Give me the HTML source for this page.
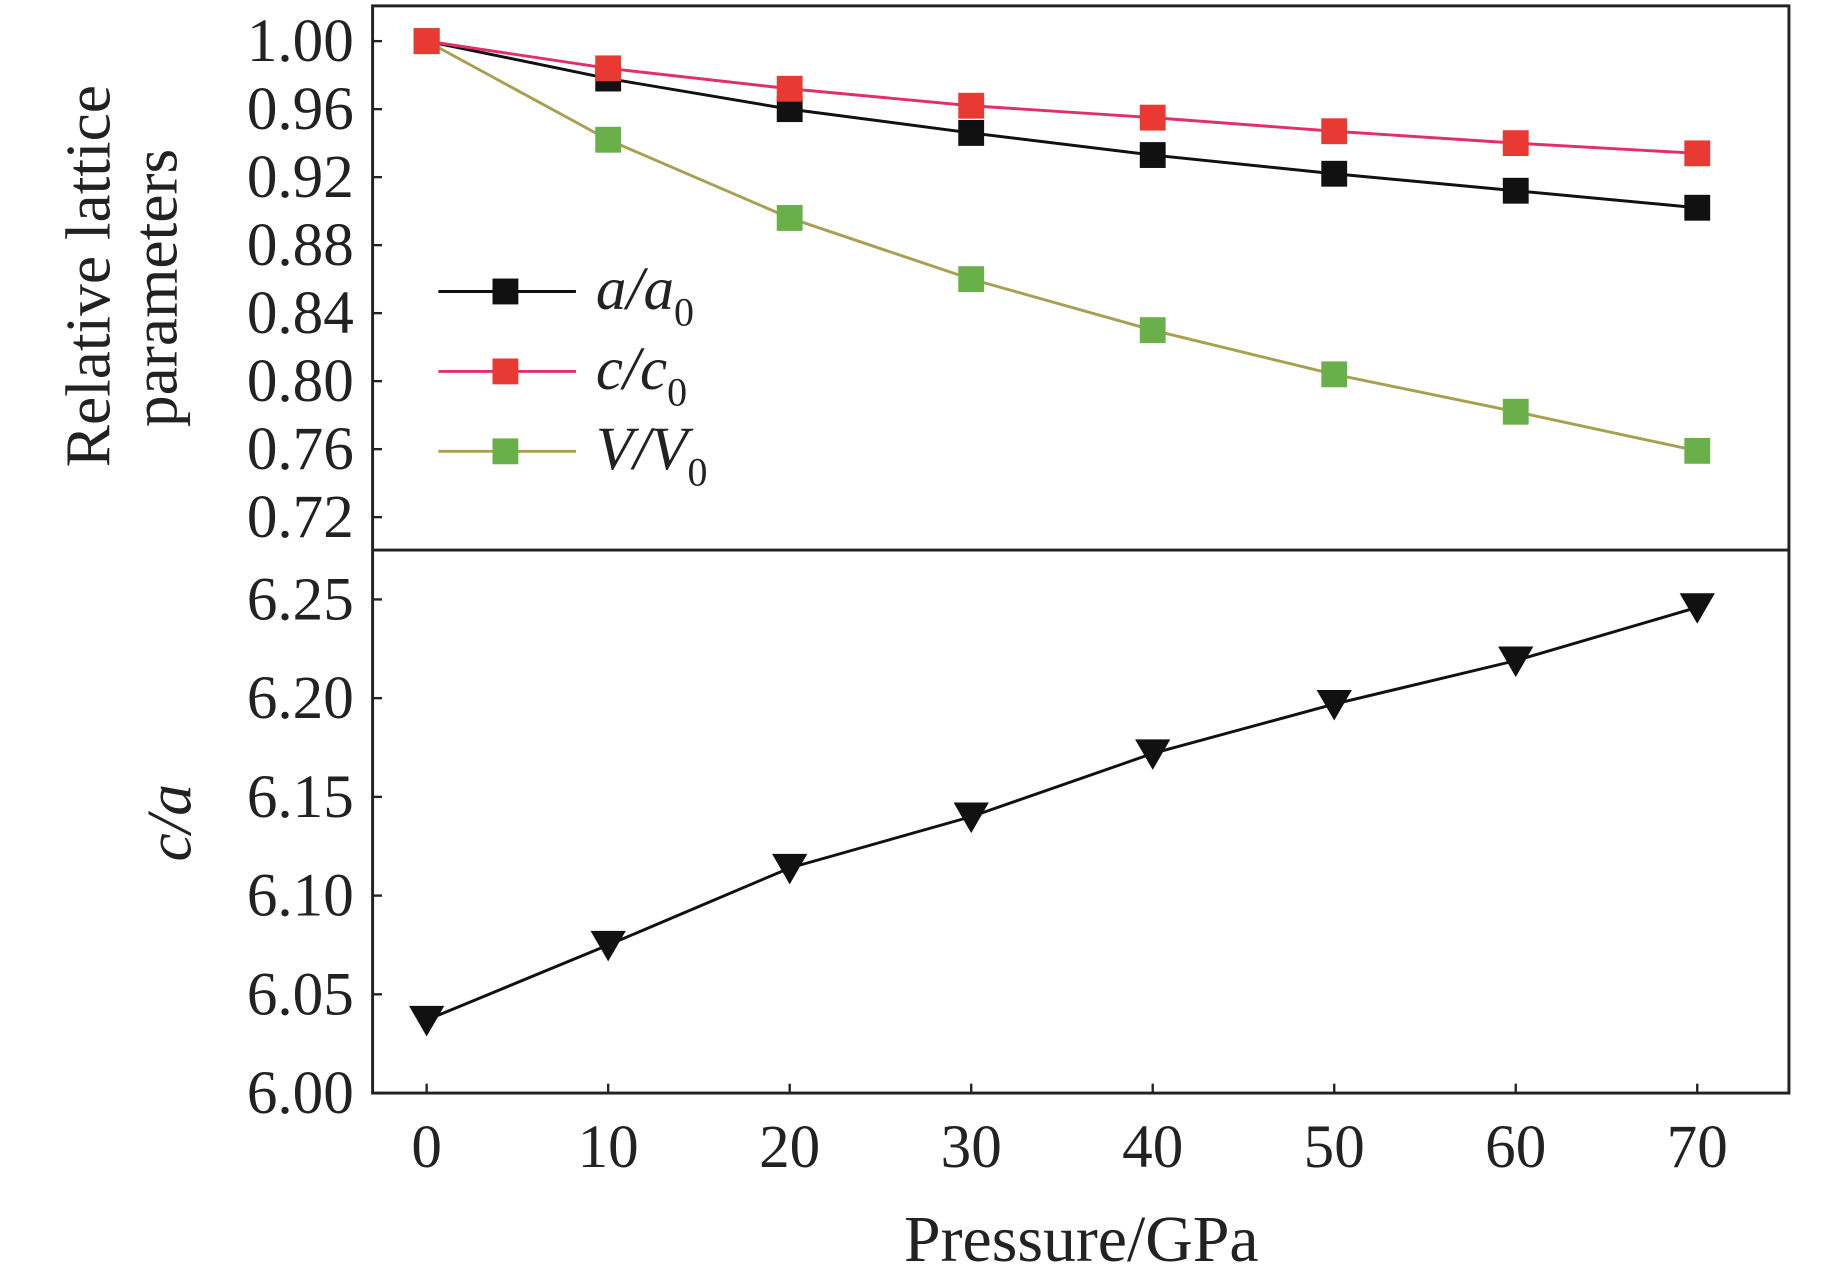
<!DOCTYPE html>
<html><head><meta charset="utf-8"><style>html,body{margin:0;padding:0;background:#fff}svg{display:block}text{font-family:"Liberation Serif",serif;fill:#222}</style></head>
<body>
<svg id="chart" width="1843" height="1287" viewBox="0 0 1568 1095" preserveAspectRatio="none" xmlns="http://www.w3.org/2000/svg">
<g id="g"></g>
</svg>
<script>
const pressure=[0,10,20,30,40,50,60,70];
const aRatio=[1,0.978,0.960,0.946,0.933,0.922,0.912,0.902];
const cRatio=[1,0.984,0.972,0.962,0.955,0.947,0.940,0.934];
const vRatio=[1,0.942,0.896,0.860,0.830,0.804,0.782,0.759];
const caRatio=[6.037,6.075,6.114,6.140,6.172,6.197,6.219,6.246];
const xTicks=[0,10,20,30,40,50,60,70];
const topTicks=[1.00,0.96,0.92,0.88,0.84,0.80,0.76,0.72];
const botTicks=[6.25,6.20,6.15,6.10,6.05,6.00];
const L=317,R=1522,T=5,M=468,B=930;
const xs=v=>363+(v-0)*(1444-363)/70;
const yt=v=>35+(1.00-v)*(440-35)/0.28;
const yb=v=>930-(v-6.00)*(930-510)/0.25;
const g=document.getElementById('g');const NS='http://www.w3.org/2000/svg';
function el(t,a,txt){const e=document.createElementNS(NS,t);for(const k in a)e.setAttribute(k,a[k]);if(txt!==undefined)e.textContent=txt;g.appendChild(e);return e;}
let e;
e=el('rect',{x:L,y:T,width:R-L,height:B-T,fill:'none',stroke:'#222','stroke-width':2.5});

e=el('line',{x1:L,x2:R,y1:M,y2:M,stroke:'#222','stroke-width':2.5});

topTicks.forEach(v=>{const y=yt(v);
e=el('line',{x1:L,x2:L+8,y1:y,y2:y,stroke:'#222','stroke-width':2});
e=el('text',{x:L-16,y:y+17,'text-anchor':'end','font-size':52},v.toFixed(2));});
botTicks.forEach(v=>{const y=yb(v);
e=el('line',{x1:L,x2:L+8,y1:y,y2:y,stroke:'#222','stroke-width':2});
e=el('text',{x:L-16,y:y+17,'text-anchor':'end','font-size':52},v.toFixed(2));});
xTicks.forEach(v=>{const x=xs(v);
e=el('line',{x1:x,x2:x,y1:B,y2:B-8,stroke:'#222','stroke-width':2});
e=el('text',{x:x,y:993,'text-anchor':'middle','font-size':52},String(v));});
function series(vals,col,mk,name){
const pts=pressure.map((p,i)=>xs(p)+','+yt(vals[i])).join(' ');
e=el('polyline',{points:pts,fill:'none',stroke:col,'stroke-width':2.5});
pressure.forEach((p,i)=>{e=el('rect',{x:xs(p)-11,y:yt(vals[i])-11,width:22,height:22,fill:mk});});}
series(aRatio,'#111','#111','a-ratio');
series(vRatio,'#a8a050','#6ab04a','v-ratio');
series(cRatio,'#e0306a','#e83a32','c-ratio');
e=el('polyline',{points:pressure.map((p,i)=>xs(p)+','+yb(caRatio[i])).join(' '),fill:'none',stroke:'#111','stroke-width':2.5});

pressure.forEach((p,i)=>{const x=xs(p),y=yb(caRatio[i]);e=el('polygon',{points:`${x-15},${y-12} ${x+15},${y-12} ${x},${y+14}`,fill:'#111'});});
const leg=[['a','#111','#111',248,'a/a'],['c','#e0306a','#e83a32',316,'c/c'],['V','#a8a050','#6ab04a',384,'V/V']];
leg.forEach(l=>{
e=el('line',{x1:373,x2:490,y1:l[3],y2:l[3],stroke:l[1],'stroke-width':2.5});
e=el('rect',{x:419,y:l[3]-11,width:22,height:22,fill:l[2]});
e=el('text',{x:507,y:l[3]+15,'font-size':52,'font-style':'italic'});
e.innerHTML=l[4]+'<tspan font-size="34" font-style="normal" dy="14">0</tspan>';});
e=el('text',{x:0,y:0,'font-size':54,'text-anchor':'middle',transform:'translate(93,235) rotate(-90)'},'Relative lattice');
e=el('text',{x:0,y:0,'font-size':54,'text-anchor':'middle',transform:'translate(150,245) rotate(-90)'},'parameters');
e=el('text',{x:0,y:0,'font-size':54,'font-style':'italic','text-anchor':'middle',transform:'translate(162,700) rotate(-90)'},'c/a');
e=el('text',{x:920,y:1073,'font-size':56,'text-anchor':'middle'},'Pressure/GPa');
</script>
</body></html>
